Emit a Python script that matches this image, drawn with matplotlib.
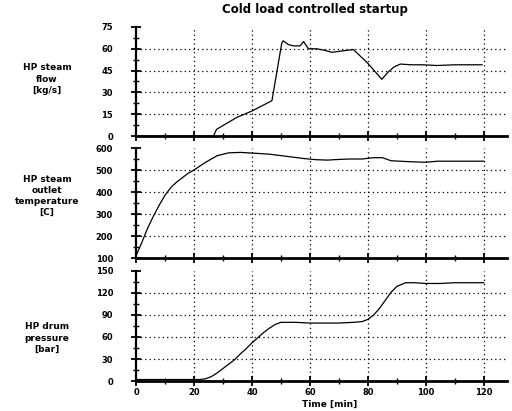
import matplotlib.pyplot as plt
from matplotlib.ticker import MultipleLocator

# HP steam flow [kg/s]
flow_t = [0, 26.7, 27.8, 34.8, 40, 46.9, 50.3, 50.8, 52.5, 54.3, 56.6,
          57.8, 59.5, 62.4, 65, 67.6, 71, 75, 80, 84.8, 87, 89, 91.2, 95, 99,
          103.8, 110, 119.4]
flow_v = [0, 0, 4.6, 12.8, 17.2, 24.3, 64, 65.5, 63, 62, 62, 65, 60, 60,
          59, 57.6, 58.5, 59.5, 50, 39, 44, 47.5, 49.5, 49, 49, 48.5, 49, 49]

# HP steam outlet temperature [C]
temp_t = [0, 2, 4, 6, 8, 10, 12, 14, 16, 18, 20, 24, 28, 32, 36, 40, 46, 52,
          58, 62, 66, 70, 74, 78, 82, 85, 88, 94, 100, 104, 120]
temp_v = [110, 170, 235, 290, 340, 385, 420, 445, 465, 485, 500, 535, 565,
          578, 580, 577, 572, 562, 552, 547, 545, 548, 550, 550, 556, 556, 542,
          538, 535, 540, 540]

# HP drum pressure [bar]
pres_t = [0, 22, 24, 26, 28, 30, 32, 34, 36, 38, 40, 42, 44, 46, 48, 50, 55,
          60, 65, 70, 75, 78, 80, 82, 84, 86, 88, 90, 93, 96, 100, 105, 110, 120]
pres_v = [2, 2, 3, 6, 11, 17, 23, 29, 37, 44, 52, 59, 66, 72, 77, 80, 80,
          79, 79, 79, 80, 81, 84, 90, 99, 110, 121, 129, 134, 134, 133, 133,
          134, 134]

panels = [
    (flow_t, flow_v, (0, 75), 15, "HP steam\nflow\n[kg/s]"),
    (temp_t, temp_v, (100, 600), 100, "HP steam\noutlet\ntemperature\n[C]"),
    (pres_t, pres_v, (0, 150), 30, "HP drum\npressure\n[bar]"),
]

W, H = 512, 411
fig = plt.figure(figsize=(W / 100, H / 100), dpi=100)
fig.patch.set_facecolor("white")

# (top, bottom) pixel rows of each panel and the row of its side label
rows = [(27, 136), (148, 258), (271, 381)]
label_rows = [79, 196, 338]
left, right = 136 / W, 507 / W

for i, ((t, v, ylim, step, label), (top, bot)) in enumerate(zip(panels, rows)):
    ax = fig.add_axes([left, 1 - bot / H, right - left, (bot - top) / H])
    ax.plot(t, v, color="black", lw=0.9)
    ax.set_ylim(*ylim)
    ax.xaxis.set_major_locator(MultipleLocator(20))
    ax.xaxis.set_minor_locator(MultipleLocator(10))
    ax.yaxis.set_major_locator(MultipleLocator(step))
    ax.yaxis.set_minor_locator(MultipleLocator(step / 2))
    for s in ("top", "right"):
        ax.spines[s].set_visible(False)
    ax.spines["bottom"].set_linewidth(2.0)
    ax.spines["left"].set_linewidth(1.6)
    ax.tick_params(which="major", direction="inout", length=7, width=1.3,
                   labelsize=6)
    ax.tick_params(which="minor", direction="inout", length=4, width=1.0)
    ax.tick_params(axis="y", which="major", pad=13)
    ax.tick_params(axis="x", which="major", pad=1.5)
    ax.grid(True, which="major", linestyle=(0, (1, 2.5)), color="black", lw=0.9)
    ax.set_xticks(range(0, 121, 20))
    ax.set_xlim(0, 128)
    for lab in ax.get_yticklabels() + ax.get_xticklabels():
        lab.set_fontweight("bold")
    for tick, loc in zip(ax.yaxis.get_major_ticks(), ax.get_yticks()):
        if loc <= ylim[0] or loc >= ylim[1]:
            tick.gridline.set_visible(False)
    for tick, loc in zip(ax.xaxis.get_major_ticks(), ax.get_xticks()):
        if loc <= 0:
            tick.gridline.set_visible(False)
    if i < 2:
        ax.tick_params(axis="x", labelbottom=False)
    fig.text(47 / W, 1 - label_rows[i] / H, label, ha="center", va="center",
             fontsize=6.5, fontweight="bold", linespacing=1.3)

fig.text(315 / W, 1 - 10 / H, "Cold load controlled startup", ha="center",
         va="center", fontsize=8.5, fontweight="bold")
fig.text(330 / W, 1 - 404 / H, "Time [min]", ha="center", va="center",
         fontsize=6.5, fontweight="bold")

fig.savefig("out.png", dpi=100)
